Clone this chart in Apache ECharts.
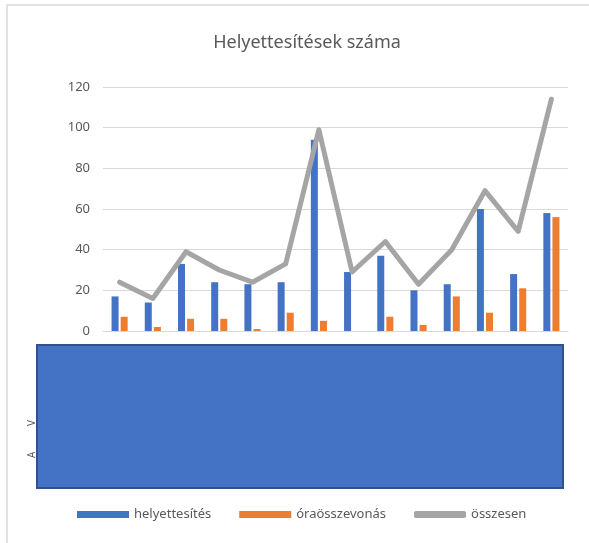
<!DOCTYPE html>
<html>
<head>
<meta charset="utf-8">
<script src="https://cdn.jsdelivr.net/npm/echarts@6/dist/echarts.min.js"></script>
<style>
  html, body { margin: 0; padding: 0; background: #fff; }
  #chart { width: 589px; height: 543px; }
</style>
</head>
<body>
<div id="chart"></div>
<script>
// categories are hidden under the blue box in the reference
const categories = ['1', '2', '3', '4', '5', '6', '7', '8', '9', '10', '11', '12', '13', '14']
const helyettesites = [17, 14, 33, 24, 23, 24, 94, 29, 37, 20, 23, 60, 28, 58]
const oraosszevonas = [7, 2, 6, 6, 1, 9, 5, 0, 7, 3, 17, 9, 21, 56]
const osszesen = [24, 16, 39, 30, 24, 33, 99, 29, 44, 23, 40, 69, 49, 114]

const font = '"Noto Sans", "Open Sans", sans-serif'

const myChart = echarts.init(document.getElementById('chart'))

const option = {
    animation: false,
    title: {
        text: 'Helyettesítések száma',
        left: 302,
        top: 29,
        textAlign: 'center',
        textStyle: {
            fontFamily: font,
            fontSize: 18,
            fontWeight: 'normal',
            color: '#595959'
        }
    },
    grid: {
        left: 103,
        right: 21,
        top: 87,
        bottom: 212
    },
    legend: {
        left: 72,
        top: 503,
        itemWidth: 52,
        itemHeight: 7,
        itemGap: 28,
        textStyle: {
            fontFamily: font,
            fontSize: 13,
            color: '#595959'
        },
        data: [
            { name: 'helyettesítés', icon: 'rect' },
            { name: 'óraösszevonás', icon: 'rect' },
            { name: 'összesen', icon: 'roundRect', itemStyle: { color: '#a5a5a5' } }
        ]
    },
    xAxis: {
        type: 'category',
        data: categories,
        axisLine: { lineStyle: { color: '#d9d9d9' } },
        axisTick: { show: false },
        axisLabel: { show: false }
    },
    yAxis: {
        type: 'value',
        min: 0,
        max: 120,
        interval: 20,
        axisLabel: {
            fontFamily: font,
            fontSize: 13,
            color: '#595959',
            margin: 13
        },
        splitLine: { lineStyle: { color: '#d9d9d9', width: 1 } }
    },
    series: [
        {
            name: 'helyettesítés',
            type: 'bar',
            data: helyettesites,
            barWidth: 7,
            barGap: '30%',
            itemStyle: { color: '#4472c4' }
        },
        {
            name: 'óraösszevonás',
            type: 'bar',
            data: oraosszevonas,
            barWidth: 7,
            itemStyle: { color: '#ed7d31' }
        },
        {
            name: 'összesen',
            type: 'line',
            data: osszesen,
            symbol: 'none',
            lineStyle: { color: '#a5a5a5', width: 5, join: 'round', cap: 'round' },
            itemStyle: { color: '#a5a5a5' }
        }
    ],
    graphic: [
        // outer chart frame
        {
            type: 'rect',
            shape: { x: 7, y: 5, width: 600, height: 560 },
            style: { fill: null, stroke: '#d9d9d9', lineWidth: 1.5 },
            silent: true
        },
        // label fragments sticking out left of the box
        {
            type: 'text',
            x: 37, y: 426, rotation: Math.PI / 2,
            style: { text: 'V', fontFamily: font, fontSize: 10, fill: '#595959', verticalAlign: 'bottom' }
        },
        {
            type: 'text',
            x: 37, y: 458, rotation: Math.PI / 2,
            style: { text: 'A', fontFamily: font, fontSize: 10, fill: '#595959', verticalAlign: 'bottom' }
        },
        // blue redaction box over the category labels
        {
            type: 'rect',
            shape: { x: 37, y: 345, width: 526, height: 143 },
            style: { fill: '#4472c4', stroke: '#2f528f', lineWidth: 2 },
            z: 100
        }
    ]
}

myChart.setOption(option)
</script>
</body>
</html>
